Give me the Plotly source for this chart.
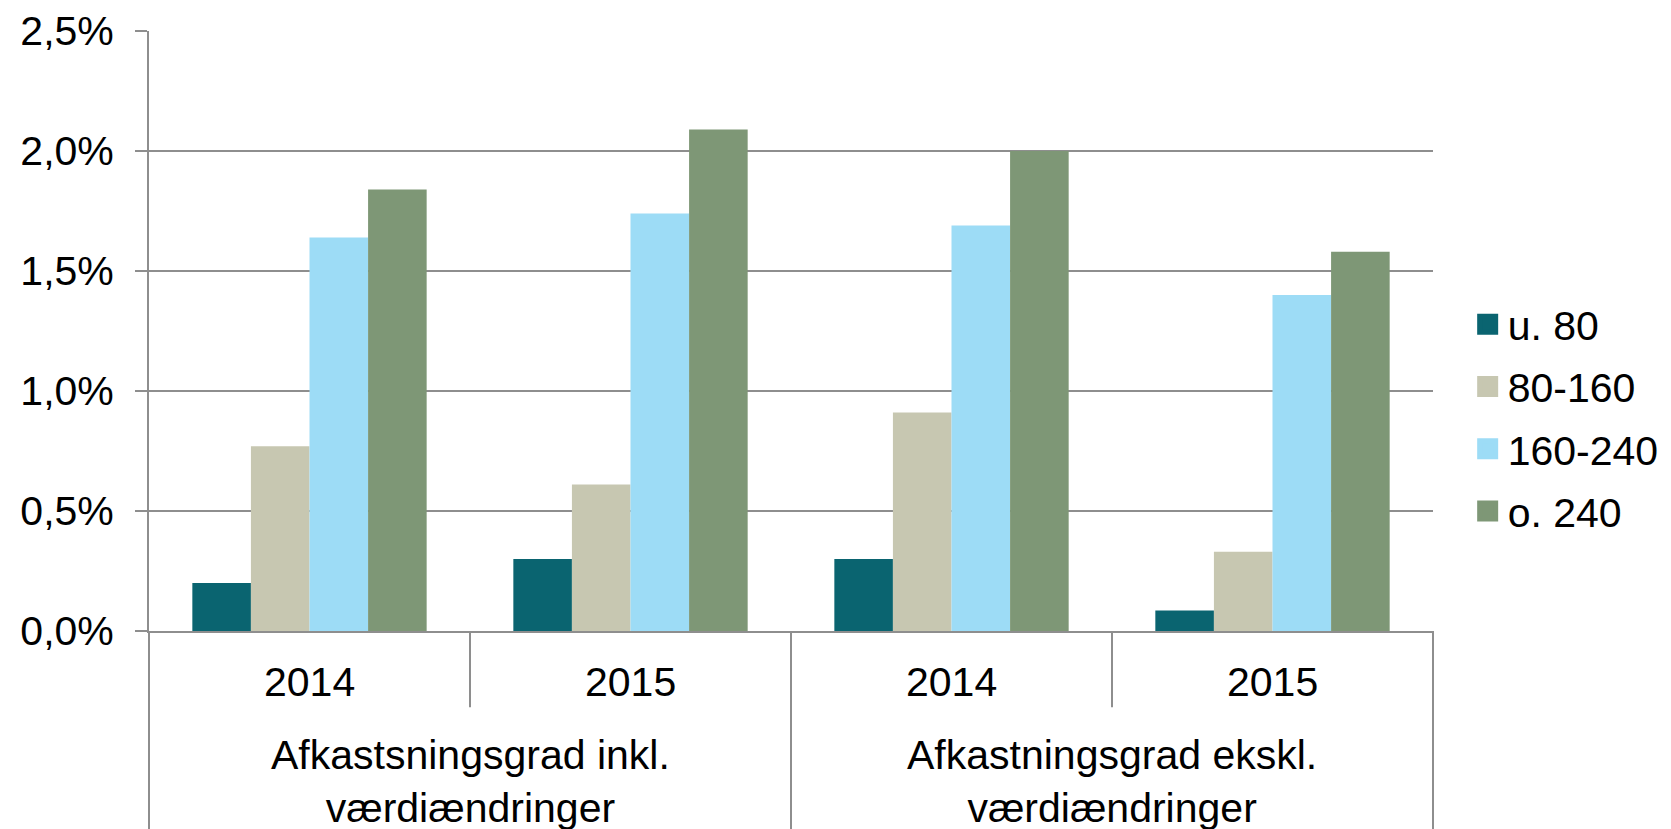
import plotly.graph_objects as go

# ---- data ----
groups = ["Afkastsningsgrad inkl.<br>værdiændringer",
          "Afkastningsgrad ekskl.<br>værdiændringer"]
years = ["2014", "2015"]
series_names = ["u. 80", "80-160", "160-240", "o. 240"]
u80 = [0.20, 0.30, 0.30, 0.085]
s80_160 = [0.77, 0.61, 0.91, 0.33]
s160_240 = [1.64, 1.74, 1.69, 1.40]
o240 = [1.84, 2.09, 2.00, 1.58]
colors = ["#0A6470", "#C7C7B1", "#9DDCF6", "#7E9776"]
yticks = [0.0, 0.5, 1.0, 1.5, 2.0, 2.5]
ytick_labels = ["0,0%", "0,5%", "1,0%", "1,5%", "2,0%", "2,5%"]

cats = [f"{g}|{y}" for g in groups for y in years]
series_vals = [u80, s80_160, s160_240, o240]

FONT = "Liberation Sans, Arial, sans-serif"
GRID = "#8E8E8E"

fig = go.Figure()
for name, vals, col in zip(series_names, series_vals, colors):
    fig.add_trace(go.Bar(x=cats, y=vals, name=name, marker_color=col,
                         marker_line_width=0, showlegend=False))
    # legend proxy with larger square marker
    fig.add_trace(go.Scatter(x=[None], y=[None], mode="markers", name=name,
                             marker=dict(symbol="square", size=16, color=col,
                                         line=dict(color=col, width=6)),
                             legendgroup=name))

# x category labels (inner and outer levels)
for i, c in enumerate(cats):
    fig.add_annotation(x=c, xref="x", y=-0.085, yref="paper", text=years[i % 2],
                       showarrow=False, xanchor="center", yanchor="middle",
                       font=dict(size=41, family=FONT, color="black"))
for gi, g in enumerate(groups):
    xc = 0.25 + 0.5 * gi
    fig.add_annotation(x=xc, xref="x domain", y=-0.25, yref="paper", text=g,
                       showarrow=False, xanchor="center", yanchor="middle",
                       align="center",
                       font=dict(size=41, family=FONT, color="black"))

# category dividers below the axis
for xd, y1 in [(0, -0.36), (0.25, -0.127), (0.5, -0.36), (0.75, -0.127), (1.0, -0.36)]:
    fig.add_shape(type="line", xref="x domain", yref="paper", x0=xd, x1=xd,
                  y0=0, y1=y1, line=dict(color=GRID, width=2))

# page body has an 8px margin: offset the figure so the plot lands in place
fig.update_layout(
    width=1700, height=829,
    margin=dict(l=141, r=275, t=23, b=206),
    paper_bgcolor="white", plot_bgcolor="white",
    barmode="group", bargap=0.27, bargroupgap=0,
    font=dict(family=FONT, size=41, color="black"),
    legend=dict(x=1.027, xanchor="left", y=0.355, yanchor="middle",
                font=dict(size=41, family=FONT, color="black"),
                tracegroupgap=6, traceorder="grouped",
                bgcolor="rgba(0,0,0,0)", itemsizing="trace"),
    showlegend=True,
)
fig.update_xaxes(type="category", showticklabels=False, showgrid=False,
                 showline=True, linecolor=GRID, linewidth=2, ticks="",
                 automargin=False)
fig.update_yaxes(range=[0, 2.5], tickvals=yticks, ticktext=ytick_labels,
                 showgrid=True, gridcolor=GRID, gridwidth=2, zeroline=False,
                 showline=True, linecolor=GRID, linewidth=2,
                 ticks="outside", ticklen=12, tickcolor=GRID, tickwidth=2,
                 ticklabelstandoff=13, automargin=False,
                 tickfont=dict(size=41, family=FONT, color="black"))

fig.write_html("out.html")
